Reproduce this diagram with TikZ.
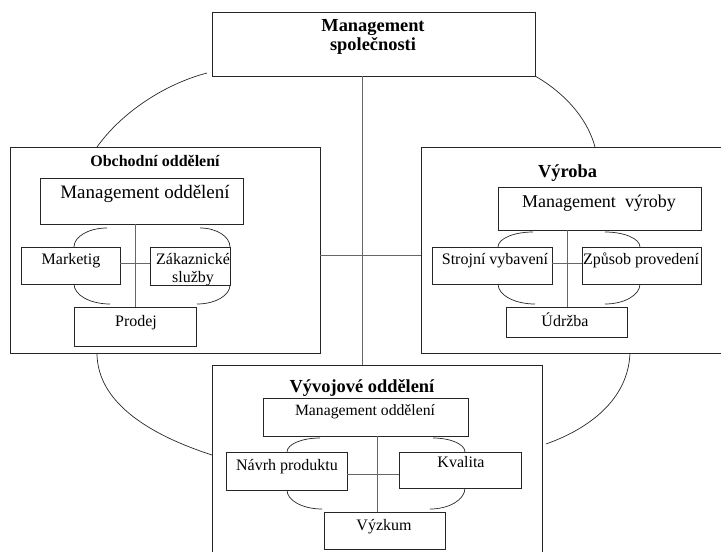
\documentclass[tikz,border=0pt]{standalone}
\usepackage{fontspec}
\setmainfont{Liberation Serif}

% rectangle of given centre and size (pt)
\newcommand\orgbox[5]{\node[box, minimum width=#4pt, minimum height=#5pt] (#1) at (#2,#3) {};}
% quarter-ellipse bracket: vertical tangent at (#1,#2), horizontal tangent at (#3,#4)
\newcommand\qarc[4]{\draw[bendline] (#1,#2) .. controls (#1,{#2+0.552*(#4-#2)}) and ({#3-0.552*(#3-#1)},#4) .. (#3,#4);}

\begin{document}
\begin{tikzpicture}[x=1pt,y=-1pt,
  box/.style={draw=black!85, line width=0.8pt, inner sep=0pt, outer sep=0pt, rectangle},
  wire/.style={draw=black!60, line width=0.9pt},
  bendline/.style={draw=black!85, line width=0.7pt},
  txt/.style={inner sep=0pt, anchor=base},
  f15/.style={font=\fontsize{15.7}{18}\selectfont},
  f16/.style={font=\fontsize{16}{19}\selectfont},
  f18/.style={font=\fontsize{18}{21}\selectfont},
  f19/.style={font=\fontsize{19}{22}\selectfont},
  b16/.style={font=\fontsize{16}{19}\selectfont\bfseries},
  b18/.style={font=\fontsize{18.4}{21}\selectfont\bfseries}
]
\useasboundingbox (0,0) rectangle (721,552);
\clip (0,0) rectangle (721,552);

% ---- outer departments ----
\orgbox{top}{373.5}{44}{323}{64}
\orgbox{sales}{165}{250}{310}{206}
\orgbox{prod}{580.5}{250}{319}{206}
\orgbox{dev}{377}{467.5}{330}{205}

% ---- sales department ----
\orgbox{lmg}{141.5}{201}{203}{46}
\orgbox{lmk}{70.5}{265.5}{99}{37}
\orgbox{lzs}{190}{266}{80}{38}
\orgbox{lpr}{135}{326.5}{122}{39}

% ---- production ----
\orgbox{rmg}{599.5}{208.5}{203}{43}
\orgbox{rsv}{492}{265.5}{120}{37}
\orgbox{rzp}{641.5}{265.5}{119}{37}
\orgbox{rud}{566.5}{322}{121}{30}

% ---- development ----
\orgbox{bmg}{365.5}{417}{205}{38}
\orgbox{bnp}{286.5}{471}{121}{38}
\orgbox{bkv}{460}{470}{122}{36}
\orgbox{bvy}{384.5}{530.5}{121}{37}

% ---- texts ----
\node[txt,b18] (tt1) at (373,31) {Management};
\node[txt,b18] (tt2) at (373,50) {společnosti};

\node[txt,b16] (st) at (155,166) {Obchodní oddělení};
\node[txt,f19] (smg) at (145,198) {Management oddělení};
\node[txt,f16] (smk) at (71,264) {Marketig};
\node[txt,f16] (szs1) at (193,264) {Zákaznické};
\node[txt,f16] (szs2) at (193,282) {služby};
\node[txt,f16] (spr) at (136,326) {Prodej};

\node[txt,b18] (pt) at (567.5,177) {Výroba};
\node[txt,f18] (pmg) at (599,207) {Management~~výroby};
\node[txt,f16] (psv) at (495,264) {Strojní vybavení};
\node[txt,f16] (pzp) at (641,264) {Způsob provedení};
\node[txt,f16] (pud) at (565,326) {Údržba};

\node[txt,b18] (dt) at (362,392) {Vývojové oddělení};
\node[txt,f15] (dmg) at (365,415) {Management oddělení};
\node[txt,f16] (dnp) at (287,470.5) {Návrh produktu};
\node[txt,f16] (dkv) at (461,467) {Kvalita};
\node[txt,f16] (dvy) at (384,530.5) {Výzkum};

% ---- straight connectors ----
\coordinate (spine) at (362,0);
\draw[wire] (top.south -| spine) -- (dev.north -| spine);
\coordinate (midrow) at (0,255);
\draw[wire] (sales.east |- midrow) -- (prod.west |- midrow);

\coordinate (lrow) at (0,263);
\draw[wire] (lmg.south -| lpr.north) -- (lpr.north);
\draw[wire] (lmk.east |- lrow) -- (lzs.west |- lrow);

\coordinate (rspine) at (567,0);
\coordinate (rrow) at (0,263);
\draw[wire] (rmg.south -| rspine) -- (rud.north -| rspine);
\draw[wire] (rsv.east |- rrow) -- (rzp.west |- rrow);

\coordinate (bspine) at (377,0);
\coordinate (brow) at (0,474);
\draw[wire] (bmg.south -| bspine) -- (bvy.north -| bspine);
\draw[wire] (bnp.east |- brow) -- (bkv.west |- brow);

% ---- large arcs between departments ----
\draw[bendline] (97,147) .. controls (122,112) and (165,84) .. (207,73);
\draw[bendline] (535,76) .. controls (553,86) and (585,110) .. (595,147);
\draw[bendline] (97,353) .. controls (97,395) and (135,430) .. (212,455);
\draw[bendline] (630,353) .. controls (628,405) and (580,432) .. (546,444);

% ---- bracket arcs inside departments ----
\qarc{74}{247}{107}{228}
\qarc{230}{247}{200}{228}
\qarc{74}{284}{110}{304}
\qarc{230}{285}{197}{304}

\qarc{498}{247}{533}{232}
\qarc{640}{247}{605}{232}
\qarc{498}{284}{535}{304}
\qarc{640}{284}{605}{304}

\qarc{287}{452}{320}{438}
\qarc{465}{452}{433}{438}
\qarc{287}{490}{322}{509}
\qarc{465}{488}{430}{509}
\end{tikzpicture}
\end{document}
